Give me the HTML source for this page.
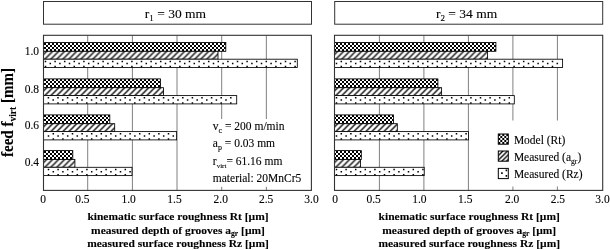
<!DOCTYPE html>
<html><head><meta charset="utf-8"><style>
html,body{margin:0;padding:0;background:#fff;}
svg{display:block;will-change:transform;}
text{font-family:"Liberation Serif", serif;fill:#000;stroke:#000;stroke-width:0.1px;}
</style></head><body>
<svg width="610" height="250" viewBox="0 0 610 250">
<defs>
<pattern id="chk" patternUnits="userSpaceOnUse" width="4" height="4" x="0" y="1">
<rect width="4" height="4" fill="#fff"/>
<rect x="2" y="0" width="2" height="2" fill="#000"/>
<rect x="0" y="2" width="2" height="2" fill="#000"/>
</pattern>
<pattern id="hat" patternUnits="userSpaceOnUse" width="6" height="6" x="0" y="0">
<rect width="6" height="6" fill="#fff"/>
<path d="M-1,1 L1,-1 M0,6 L6,0 M5,7 L7,5" stroke="#000" stroke-width="1.3"/>
</pattern>
<pattern id="chk2" patternUnits="userSpaceOnUse" width="4" height="4" x="498.3" y="134">
<rect width="4" height="4" fill="#fff"/>
<rect x="0" y="0" width="2" height="2" fill="#000"/>
<rect x="2" y="2" width="2" height="2" fill="#000"/>
</pattern>
<pattern id="hat2" patternUnits="userSpaceOnUse" width="4.6" height="4.6" x="498.3" y="151">
<rect width="4.6" height="4.6" fill="#fff"/>
<path d="M-1,1 L1,-1 M0,4.6 L4.6,0 M3.6,5.6 L5.6,3.6" stroke="#000" stroke-width="1.35"/>
</pattern>
</defs>
<rect width="610" height="250" fill="#fff"/>

<rect x="43.5" y="1.5" width="268.0" height="22.7" fill="#fff" stroke="#333" stroke-width="1"/>
<line x1="87.70" y1="35.3" x2="87.70" y2="190.4" stroke="#808080" stroke-width="1"/>
<line x1="132.40" y1="35.3" x2="132.40" y2="190.4" stroke="#808080" stroke-width="1"/>
<line x1="177.00" y1="35.3" x2="177.00" y2="190.4" stroke="#808080" stroke-width="1"/>
<line x1="221.70" y1="35.3" x2="221.70" y2="190.4" stroke="#808080" stroke-width="1"/>
<line x1="266.35" y1="35.3" x2="266.35" y2="190.4" stroke="#808080" stroke-width="1"/>
<rect x="43.5" y="42.5" width="182.3" height="8.8" fill="url(#chk)" stroke="#000" stroke-width="0.85"/>
<g transform="translate(43.5,42.5)">
<rect x="0" y="8.8" width="174.5" height="7.9" fill="url(#hat)" stroke="#000" stroke-width="0.85"/>
<rect x="0" y="16.7" width="253.8" height="8.3" fill="#fff" stroke="#000" stroke-width="0.85"/>
<path d="M1.25,18.15h1.5v1.5h-1.5zM1.25,23.35h1.5v1.5h-1.5zM6.05,20.35h1.5v1.5h-1.5zM10.85,18.15h1.5v1.5h-1.5zM10.85,23.35h1.5v1.5h-1.5zM15.65,20.35h1.5v1.5h-1.5zM20.45,18.15h1.5v1.5h-1.5zM20.45,23.35h1.5v1.5h-1.5zM25.25,20.35h1.5v1.5h-1.5zM30.05,18.15h1.5v1.5h-1.5zM30.05,23.35h1.5v1.5h-1.5zM34.85,20.35h1.5v1.5h-1.5zM39.65,18.15h1.5v1.5h-1.5zM39.65,23.35h1.5v1.5h-1.5zM44.45,20.35h1.5v1.5h-1.5zM49.25,18.15h1.5v1.5h-1.5zM49.25,23.35h1.5v1.5h-1.5zM54.05,20.35h1.5v1.5h-1.5zM58.85,18.15h1.5v1.5h-1.5zM58.85,23.35h1.5v1.5h-1.5zM63.65,20.35h1.5v1.5h-1.5zM68.45,18.15h1.5v1.5h-1.5zM68.45,23.35h1.5v1.5h-1.5zM73.25,20.35h1.5v1.5h-1.5zM78.05,18.15h1.5v1.5h-1.5zM78.05,23.35h1.5v1.5h-1.5zM82.85,20.35h1.5v1.5h-1.5zM87.65,18.15h1.5v1.5h-1.5zM87.65,23.35h1.5v1.5h-1.5zM92.45,20.35h1.5v1.5h-1.5zM97.25,18.15h1.5v1.5h-1.5zM97.25,23.35h1.5v1.5h-1.5zM102.05,20.35h1.5v1.5h-1.5zM106.85,18.15h1.5v1.5h-1.5zM106.85,23.35h1.5v1.5h-1.5zM111.65,20.35h1.5v1.5h-1.5zM116.45,18.15h1.5v1.5h-1.5zM116.45,23.35h1.5v1.5h-1.5zM121.25,20.35h1.5v1.5h-1.5zM126.05,18.15h1.5v1.5h-1.5zM126.05,23.35h1.5v1.5h-1.5zM130.85,20.35h1.5v1.5h-1.5zM135.65,18.15h1.5v1.5h-1.5zM135.65,23.35h1.5v1.5h-1.5zM140.45,20.35h1.5v1.5h-1.5zM145.25,18.15h1.5v1.5h-1.5zM145.25,23.35h1.5v1.5h-1.5zM150.05,20.35h1.5v1.5h-1.5zM154.85,18.15h1.5v1.5h-1.5zM154.85,23.35h1.5v1.5h-1.5zM159.65,20.35h1.5v1.5h-1.5zM164.45,18.15h1.5v1.5h-1.5zM164.45,23.35h1.5v1.5h-1.5zM169.25,20.35h1.5v1.5h-1.5zM174.05,18.15h1.5v1.5h-1.5zM174.05,23.35h1.5v1.5h-1.5zM178.85,20.35h1.5v1.5h-1.5zM183.65,18.15h1.5v1.5h-1.5zM183.65,23.35h1.5v1.5h-1.5zM188.45,20.35h1.5v1.5h-1.5zM193.25,18.15h1.5v1.5h-1.5zM193.25,23.35h1.5v1.5h-1.5zM198.05,20.35h1.5v1.5h-1.5zM202.85,18.15h1.5v1.5h-1.5zM202.85,23.35h1.5v1.5h-1.5zM207.65,20.35h1.5v1.5h-1.5zM212.45,18.15h1.5v1.5h-1.5zM212.45,23.35h1.5v1.5h-1.5zM217.25,20.35h1.5v1.5h-1.5zM222.05,18.15h1.5v1.5h-1.5zM222.05,23.35h1.5v1.5h-1.5zM226.85,20.35h1.5v1.5h-1.5zM231.65,18.15h1.5v1.5h-1.5zM231.65,23.35h1.5v1.5h-1.5zM236.45,20.35h1.5v1.5h-1.5zM241.25,18.15h1.5v1.5h-1.5zM241.25,23.35h1.5v1.5h-1.5zM246.05,20.35h1.5v1.5h-1.5zM250.85,18.15h1.5v1.5h-1.5zM250.85,23.35h1.5v1.5h-1.5z" fill="#000"/>
</g>
<rect x="43.5" y="78.9" width="117.0" height="8.8" fill="url(#chk)" stroke="#000" stroke-width="0.85"/>
<g transform="translate(43.5,78.9)">
<rect x="0" y="8.8" width="120.0" height="7.9" fill="url(#hat)" stroke="#000" stroke-width="0.85"/>
<rect x="0" y="16.7" width="193.2" height="8.3" fill="#fff" stroke="#000" stroke-width="0.85"/>
<path d="M4.15,18.15h1.5v1.5h-1.5zM4.15,23.35h1.5v1.5h-1.5zM8.95,20.35h1.5v1.5h-1.5zM13.75,18.15h1.5v1.5h-1.5zM13.75,23.35h1.5v1.5h-1.5zM18.55,20.35h1.5v1.5h-1.5zM23.35,18.15h1.5v1.5h-1.5zM23.35,23.35h1.5v1.5h-1.5zM28.15,20.35h1.5v1.5h-1.5zM32.95,18.15h1.5v1.5h-1.5zM32.95,23.35h1.5v1.5h-1.5zM37.75,20.35h1.5v1.5h-1.5zM42.55,18.15h1.5v1.5h-1.5zM42.55,23.35h1.5v1.5h-1.5zM47.35,20.35h1.5v1.5h-1.5zM52.15,18.15h1.5v1.5h-1.5zM52.15,23.35h1.5v1.5h-1.5zM56.95,20.35h1.5v1.5h-1.5zM61.75,18.15h1.5v1.5h-1.5zM61.75,23.35h1.5v1.5h-1.5zM66.55,20.35h1.5v1.5h-1.5zM71.35,18.15h1.5v1.5h-1.5zM71.35,23.35h1.5v1.5h-1.5zM76.15,20.35h1.5v1.5h-1.5zM80.95,18.15h1.5v1.5h-1.5zM80.95,23.35h1.5v1.5h-1.5zM85.75,20.35h1.5v1.5h-1.5zM90.55,18.15h1.5v1.5h-1.5zM90.55,23.35h1.5v1.5h-1.5zM95.35,20.35h1.5v1.5h-1.5zM100.15,18.15h1.5v1.5h-1.5zM100.15,23.35h1.5v1.5h-1.5zM104.95,20.35h1.5v1.5h-1.5zM109.75,18.15h1.5v1.5h-1.5zM109.75,23.35h1.5v1.5h-1.5zM114.55,20.35h1.5v1.5h-1.5zM119.35,18.15h1.5v1.5h-1.5zM119.35,23.35h1.5v1.5h-1.5zM124.15,20.35h1.5v1.5h-1.5zM128.95,18.15h1.5v1.5h-1.5zM128.95,23.35h1.5v1.5h-1.5zM133.75,20.35h1.5v1.5h-1.5zM138.55,18.15h1.5v1.5h-1.5zM138.55,23.35h1.5v1.5h-1.5zM143.35,20.35h1.5v1.5h-1.5zM148.15,18.15h1.5v1.5h-1.5zM148.15,23.35h1.5v1.5h-1.5zM152.95,20.35h1.5v1.5h-1.5zM157.75,18.15h1.5v1.5h-1.5zM157.75,23.35h1.5v1.5h-1.5zM162.55,20.35h1.5v1.5h-1.5zM167.35,18.15h1.5v1.5h-1.5zM167.35,23.35h1.5v1.5h-1.5zM172.15,20.35h1.5v1.5h-1.5zM176.95,18.15h1.5v1.5h-1.5zM176.95,23.35h1.5v1.5h-1.5zM181.75,20.35h1.5v1.5h-1.5zM186.55,18.15h1.5v1.5h-1.5zM186.55,23.35h1.5v1.5h-1.5z" fill="#000"/>
</g>
<rect x="43.5" y="114.9" width="66.3" height="8.8" fill="url(#chk)" stroke="#000" stroke-width="0.85"/>
<g transform="translate(43.5,114.9)">
<rect x="0" y="8.8" width="71.2" height="7.9" fill="url(#hat)" stroke="#000" stroke-width="0.85"/>
<rect x="0" y="16.7" width="133.1" height="8.3" fill="#fff" stroke="#000" stroke-width="0.85"/>
<path d="M4.25,20.35h1.5v1.5h-1.5zM9.05,18.15h1.5v1.5h-1.5zM9.05,23.35h1.5v1.5h-1.5zM13.85,20.35h1.5v1.5h-1.5zM18.65,18.15h1.5v1.5h-1.5zM18.65,23.35h1.5v1.5h-1.5zM23.45,20.35h1.5v1.5h-1.5zM28.25,18.15h1.5v1.5h-1.5zM28.25,23.35h1.5v1.5h-1.5zM33.05,20.35h1.5v1.5h-1.5zM37.85,18.15h1.5v1.5h-1.5zM37.85,23.35h1.5v1.5h-1.5zM42.65,20.35h1.5v1.5h-1.5zM47.45,18.15h1.5v1.5h-1.5zM47.45,23.35h1.5v1.5h-1.5zM52.25,20.35h1.5v1.5h-1.5zM57.05,18.15h1.5v1.5h-1.5zM57.05,23.35h1.5v1.5h-1.5zM61.85,20.35h1.5v1.5h-1.5zM66.65,18.15h1.5v1.5h-1.5zM66.65,23.35h1.5v1.5h-1.5zM71.45,20.35h1.5v1.5h-1.5zM76.25,18.15h1.5v1.5h-1.5zM76.25,23.35h1.5v1.5h-1.5zM81.05,20.35h1.5v1.5h-1.5zM85.85,18.15h1.5v1.5h-1.5zM85.85,23.35h1.5v1.5h-1.5zM90.65,20.35h1.5v1.5h-1.5zM95.45,18.15h1.5v1.5h-1.5zM95.45,23.35h1.5v1.5h-1.5zM100.25,20.35h1.5v1.5h-1.5zM105.05,18.15h1.5v1.5h-1.5zM105.05,23.35h1.5v1.5h-1.5zM109.85,20.35h1.5v1.5h-1.5zM114.65,18.15h1.5v1.5h-1.5zM114.65,23.35h1.5v1.5h-1.5zM119.45,20.35h1.5v1.5h-1.5zM124.25,18.15h1.5v1.5h-1.5zM124.25,23.35h1.5v1.5h-1.5zM129.05,20.35h1.5v1.5h-1.5z" fill="#000"/>
</g>
<rect x="43.5" y="150.6" width="29.3" height="8.8" fill="url(#chk)" stroke="#000" stroke-width="0.85"/>
<g transform="translate(43.5,150.6)">
<rect x="0" y="8.8" width="31.4" height="7.9" fill="url(#hat)" stroke="#000" stroke-width="0.85"/>
<rect x="0" y="16.7" width="88.5" height="8.3" fill="#fff" stroke="#000" stroke-width="0.85"/>
<path d="M4.25,18.15h1.5v1.5h-1.5zM4.25,23.35h1.5v1.5h-1.5zM9.05,20.35h1.5v1.5h-1.5zM13.85,18.15h1.5v1.5h-1.5zM13.85,23.35h1.5v1.5h-1.5zM18.65,20.35h1.5v1.5h-1.5zM23.45,18.15h1.5v1.5h-1.5zM23.45,23.35h1.5v1.5h-1.5zM28.25,20.35h1.5v1.5h-1.5zM33.05,18.15h1.5v1.5h-1.5zM33.05,23.35h1.5v1.5h-1.5zM37.85,20.35h1.5v1.5h-1.5zM42.65,18.15h1.5v1.5h-1.5zM42.65,23.35h1.5v1.5h-1.5zM47.45,20.35h1.5v1.5h-1.5zM52.25,18.15h1.5v1.5h-1.5zM52.25,23.35h1.5v1.5h-1.5zM57.05,20.35h1.5v1.5h-1.5zM61.85,18.15h1.5v1.5h-1.5zM61.85,23.35h1.5v1.5h-1.5zM66.65,20.35h1.5v1.5h-1.5zM71.45,18.15h1.5v1.5h-1.5zM71.45,23.35h1.5v1.5h-1.5zM76.25,20.35h1.5v1.5h-1.5zM81.05,18.15h1.5v1.5h-1.5zM81.05,23.35h1.5v1.5h-1.5zM85.85,20.35h1.5v1.5h-1.5z" fill="#000"/>
</g>
<text x="43.00" y="203" font-size="11.5" text-anchor="middle">0</text>
<text x="82.32" y="203" font-size="11.5" text-anchor="middle">0.5</text>
<text x="128.58" y="203" font-size="11.5" text-anchor="middle">1.0</text>
<text x="174.55" y="203" font-size="11.5" text-anchor="middle">1.5</text>
<text x="220.72" y="203" font-size="11.5" text-anchor="middle">2.0</text>
<text x="266.13" y="203" font-size="11.5" text-anchor="middle">2.5</text>
<text x="311.50" y="203" font-size="11.5" text-anchor="middle">3.0</text>
<text x="175.4" y="18.4" font-size="13.5" text-anchor="middle">r<tspan font-size="9" dy="3">1</tspan><tspan dy="-3"> = 30 mm</tspan></text>
<text transform="translate(178.0,220.2) scale(1.065,1)" font-size="10.8" font-weight="bold" text-anchor="middle">kinematic surface roughness Rt [µm]</text>
<text transform="translate(178.0,234.0) scale(1.065,1)" font-size="10.8" font-weight="bold" text-anchor="middle">measured depth of grooves a<tspan font-size="7.2" dy="2.3">gr</tspan><tspan dy="-2.3"> [µm]</tspan></text>
<text transform="translate(178.0,247.0) scale(1.065,1)" font-size="10.8" font-weight="bold" text-anchor="middle">measured surface roughness Rz [µm]</text>
<rect x="334.7" y="1.5" width="268.0" height="22.7" fill="#fff" stroke="#333" stroke-width="1"/>
<line x1="379.40" y1="35.3" x2="379.40" y2="190.4" stroke="#808080" stroke-width="1"/>
<line x1="423.90" y1="35.3" x2="423.90" y2="190.4" stroke="#808080" stroke-width="1"/>
<line x1="468.40" y1="35.3" x2="468.40" y2="190.4" stroke="#808080" stroke-width="1"/>
<line x1="512.90" y1="35.3" x2="512.90" y2="190.4" stroke="#808080" stroke-width="1"/>
<line x1="557.40" y1="35.3" x2="557.40" y2="190.4" stroke="#808080" stroke-width="1"/>
<rect x="334.5" y="42.5" width="161.4" height="8.8" fill="url(#chk)" stroke="#000" stroke-width="0.85"/>
<g transform="translate(334.5,42.5)">
<rect x="0" y="8.8" width="153.1" height="7.9" fill="url(#hat)" stroke="#000" stroke-width="0.85"/>
<rect x="0" y="16.7" width="228.1" height="8.3" fill="#fff" stroke="#000" stroke-width="0.85"/>
<path d="M1.25,20.35h1.5v1.5h-1.5zM6.05,18.15h1.5v1.5h-1.5zM6.05,23.35h1.5v1.5h-1.5zM10.85,20.35h1.5v1.5h-1.5zM15.65,18.15h1.5v1.5h-1.5zM15.65,23.35h1.5v1.5h-1.5zM20.45,20.35h1.5v1.5h-1.5zM25.25,18.15h1.5v1.5h-1.5zM25.25,23.35h1.5v1.5h-1.5zM30.05,20.35h1.5v1.5h-1.5zM34.85,18.15h1.5v1.5h-1.5zM34.85,23.35h1.5v1.5h-1.5zM39.65,20.35h1.5v1.5h-1.5zM44.45,18.15h1.5v1.5h-1.5zM44.45,23.35h1.5v1.5h-1.5zM49.25,20.35h1.5v1.5h-1.5zM54.05,18.15h1.5v1.5h-1.5zM54.05,23.35h1.5v1.5h-1.5zM58.85,20.35h1.5v1.5h-1.5zM63.65,18.15h1.5v1.5h-1.5zM63.65,23.35h1.5v1.5h-1.5zM68.45,20.35h1.5v1.5h-1.5zM73.25,18.15h1.5v1.5h-1.5zM73.25,23.35h1.5v1.5h-1.5zM78.05,20.35h1.5v1.5h-1.5zM82.85,18.15h1.5v1.5h-1.5zM82.85,23.35h1.5v1.5h-1.5zM87.65,20.35h1.5v1.5h-1.5zM92.45,18.15h1.5v1.5h-1.5zM92.45,23.35h1.5v1.5h-1.5zM97.25,20.35h1.5v1.5h-1.5zM102.05,18.15h1.5v1.5h-1.5zM102.05,23.35h1.5v1.5h-1.5zM106.85,20.35h1.5v1.5h-1.5zM111.65,18.15h1.5v1.5h-1.5zM111.65,23.35h1.5v1.5h-1.5zM116.45,20.35h1.5v1.5h-1.5zM121.25,18.15h1.5v1.5h-1.5zM121.25,23.35h1.5v1.5h-1.5zM126.05,20.35h1.5v1.5h-1.5zM130.85,18.15h1.5v1.5h-1.5zM130.85,23.35h1.5v1.5h-1.5zM135.65,20.35h1.5v1.5h-1.5zM140.45,18.15h1.5v1.5h-1.5zM140.45,23.35h1.5v1.5h-1.5zM145.25,20.35h1.5v1.5h-1.5zM150.05,18.15h1.5v1.5h-1.5zM150.05,23.35h1.5v1.5h-1.5zM154.85,20.35h1.5v1.5h-1.5zM159.65,18.15h1.5v1.5h-1.5zM159.65,23.35h1.5v1.5h-1.5zM164.45,20.35h1.5v1.5h-1.5zM169.25,18.15h1.5v1.5h-1.5zM169.25,23.35h1.5v1.5h-1.5zM174.05,20.35h1.5v1.5h-1.5zM178.85,18.15h1.5v1.5h-1.5zM178.85,23.35h1.5v1.5h-1.5zM183.65,20.35h1.5v1.5h-1.5zM188.45,18.15h1.5v1.5h-1.5zM188.45,23.35h1.5v1.5h-1.5zM193.25,20.35h1.5v1.5h-1.5zM198.05,18.15h1.5v1.5h-1.5zM198.05,23.35h1.5v1.5h-1.5zM202.85,20.35h1.5v1.5h-1.5zM207.65,18.15h1.5v1.5h-1.5zM207.65,23.35h1.5v1.5h-1.5zM212.45,20.35h1.5v1.5h-1.5zM217.25,18.15h1.5v1.5h-1.5zM217.25,23.35h1.5v1.5h-1.5zM222.05,20.35h1.5v1.5h-1.5z" fill="#000"/>
</g>
<rect x="334.5" y="78.9" width="103.4" height="8.8" fill="url(#chk)" stroke="#000" stroke-width="0.85"/>
<g transform="translate(334.5,78.9)">
<rect x="0" y="8.8" width="107.1" height="7.9" fill="url(#hat)" stroke="#000" stroke-width="0.85"/>
<rect x="0" y="16.7" width="179.8" height="8.3" fill="#fff" stroke="#000" stroke-width="0.85"/>
<path d="M1.25,18.15h1.5v1.5h-1.5zM1.25,23.35h1.5v1.5h-1.5zM6.05,20.35h1.5v1.5h-1.5zM10.85,18.15h1.5v1.5h-1.5zM10.85,23.35h1.5v1.5h-1.5zM15.65,20.35h1.5v1.5h-1.5zM20.45,18.15h1.5v1.5h-1.5zM20.45,23.35h1.5v1.5h-1.5zM25.25,20.35h1.5v1.5h-1.5zM30.05,18.15h1.5v1.5h-1.5zM30.05,23.35h1.5v1.5h-1.5zM34.85,20.35h1.5v1.5h-1.5zM39.65,18.15h1.5v1.5h-1.5zM39.65,23.35h1.5v1.5h-1.5zM44.45,20.35h1.5v1.5h-1.5zM49.25,18.15h1.5v1.5h-1.5zM49.25,23.35h1.5v1.5h-1.5zM54.05,20.35h1.5v1.5h-1.5zM58.85,18.15h1.5v1.5h-1.5zM58.85,23.35h1.5v1.5h-1.5zM63.65,20.35h1.5v1.5h-1.5zM68.45,18.15h1.5v1.5h-1.5zM68.45,23.35h1.5v1.5h-1.5zM73.25,20.35h1.5v1.5h-1.5zM78.05,18.15h1.5v1.5h-1.5zM78.05,23.35h1.5v1.5h-1.5zM82.85,20.35h1.5v1.5h-1.5zM87.65,18.15h1.5v1.5h-1.5zM87.65,23.35h1.5v1.5h-1.5zM92.45,20.35h1.5v1.5h-1.5zM97.25,18.15h1.5v1.5h-1.5zM97.25,23.35h1.5v1.5h-1.5zM102.05,20.35h1.5v1.5h-1.5zM106.85,18.15h1.5v1.5h-1.5zM106.85,23.35h1.5v1.5h-1.5zM111.65,20.35h1.5v1.5h-1.5zM116.45,18.15h1.5v1.5h-1.5zM116.45,23.35h1.5v1.5h-1.5zM121.25,20.35h1.5v1.5h-1.5zM126.05,18.15h1.5v1.5h-1.5zM126.05,23.35h1.5v1.5h-1.5zM130.85,20.35h1.5v1.5h-1.5zM135.65,18.15h1.5v1.5h-1.5zM135.65,23.35h1.5v1.5h-1.5zM140.45,20.35h1.5v1.5h-1.5zM145.25,18.15h1.5v1.5h-1.5zM145.25,23.35h1.5v1.5h-1.5zM150.05,20.35h1.5v1.5h-1.5zM154.85,18.15h1.5v1.5h-1.5zM154.85,23.35h1.5v1.5h-1.5zM159.65,20.35h1.5v1.5h-1.5zM164.45,18.15h1.5v1.5h-1.5zM164.45,23.35h1.5v1.5h-1.5zM169.25,20.35h1.5v1.5h-1.5zM174.05,18.15h1.5v1.5h-1.5zM174.05,23.35h1.5v1.5h-1.5z" fill="#000"/>
</g>
<rect x="334.5" y="114.9" width="59.0" height="8.8" fill="url(#chk)" stroke="#000" stroke-width="0.85"/>
<g transform="translate(334.5,114.9)">
<rect x="0" y="8.8" width="62.8" height="7.9" fill="url(#hat)" stroke="#000" stroke-width="0.85"/>
<rect x="0" y="16.7" width="134.0" height="8.3" fill="#fff" stroke="#000" stroke-width="0.85"/>
<path d="M1.25,20.35h1.5v1.5h-1.5zM6.05,18.15h1.5v1.5h-1.5zM6.05,23.35h1.5v1.5h-1.5zM10.85,20.35h1.5v1.5h-1.5zM15.65,18.15h1.5v1.5h-1.5zM15.65,23.35h1.5v1.5h-1.5zM20.45,20.35h1.5v1.5h-1.5zM25.25,18.15h1.5v1.5h-1.5zM25.25,23.35h1.5v1.5h-1.5zM30.05,20.35h1.5v1.5h-1.5zM34.85,18.15h1.5v1.5h-1.5zM34.85,23.35h1.5v1.5h-1.5zM39.65,20.35h1.5v1.5h-1.5zM44.45,18.15h1.5v1.5h-1.5zM44.45,23.35h1.5v1.5h-1.5zM49.25,20.35h1.5v1.5h-1.5zM54.05,18.15h1.5v1.5h-1.5zM54.05,23.35h1.5v1.5h-1.5zM58.85,20.35h1.5v1.5h-1.5zM63.65,18.15h1.5v1.5h-1.5zM63.65,23.35h1.5v1.5h-1.5zM68.45,20.35h1.5v1.5h-1.5zM73.25,18.15h1.5v1.5h-1.5zM73.25,23.35h1.5v1.5h-1.5zM78.05,20.35h1.5v1.5h-1.5zM82.85,18.15h1.5v1.5h-1.5zM82.85,23.35h1.5v1.5h-1.5zM87.65,20.35h1.5v1.5h-1.5zM92.45,18.15h1.5v1.5h-1.5zM92.45,23.35h1.5v1.5h-1.5zM97.25,20.35h1.5v1.5h-1.5zM102.05,18.15h1.5v1.5h-1.5zM102.05,23.35h1.5v1.5h-1.5zM106.85,20.35h1.5v1.5h-1.5zM111.65,18.15h1.5v1.5h-1.5zM111.65,23.35h1.5v1.5h-1.5zM116.45,20.35h1.5v1.5h-1.5zM121.25,18.15h1.5v1.5h-1.5zM121.25,23.35h1.5v1.5h-1.5zM126.05,20.35h1.5v1.5h-1.5zM130.85,18.15h1.5v1.5h-1.5zM130.85,23.35h1.5v1.5h-1.5z" fill="#000"/>
</g>
<rect x="334.5" y="150.6" width="26.8" height="8.8" fill="url(#chk)" stroke="#000" stroke-width="0.85"/>
<g transform="translate(334.5,150.6)">
<rect x="0" y="8.8" width="26.0" height="7.9" fill="url(#hat)" stroke="#000" stroke-width="0.85"/>
<rect x="0" y="16.7" width="89.7" height="8.3" fill="#fff" stroke="#000" stroke-width="0.85"/>
<path d="M1.25,18.15h1.5v1.5h-1.5zM1.25,23.35h1.5v1.5h-1.5zM6.05,20.35h1.5v1.5h-1.5zM10.85,18.15h1.5v1.5h-1.5zM10.85,23.35h1.5v1.5h-1.5zM15.65,20.35h1.5v1.5h-1.5zM20.45,18.15h1.5v1.5h-1.5zM20.45,23.35h1.5v1.5h-1.5zM25.25,20.35h1.5v1.5h-1.5zM30.05,18.15h1.5v1.5h-1.5zM30.05,23.35h1.5v1.5h-1.5zM34.85,20.35h1.5v1.5h-1.5zM39.65,18.15h1.5v1.5h-1.5zM39.65,23.35h1.5v1.5h-1.5zM44.45,20.35h1.5v1.5h-1.5zM49.25,18.15h1.5v1.5h-1.5zM49.25,23.35h1.5v1.5h-1.5zM54.05,20.35h1.5v1.5h-1.5zM58.85,18.15h1.5v1.5h-1.5zM58.85,23.35h1.5v1.5h-1.5zM63.65,20.35h1.5v1.5h-1.5zM68.45,18.15h1.5v1.5h-1.5zM68.45,23.35h1.5v1.5h-1.5zM73.25,20.35h1.5v1.5h-1.5zM78.05,18.15h1.5v1.5h-1.5zM78.05,23.35h1.5v1.5h-1.5zM82.85,20.35h1.5v1.5h-1.5zM87.65,18.15h1.5v1.5h-1.5zM87.65,23.35h1.5v1.5h-1.5z" fill="#000"/>
</g>
<text x="335.20" y="203" font-size="11.5" text-anchor="middle">0</text>
<text x="373.67" y="203" font-size="11.5" text-anchor="middle">0.5</text>
<text x="419.33" y="203" font-size="11.5" text-anchor="middle">1.0</text>
<text x="465.30" y="203" font-size="11.5" text-anchor="middle">1.5</text>
<text x="512.07" y="203" font-size="11.5" text-anchor="middle">2.0</text>
<text x="557.93" y="203" font-size="11.5" text-anchor="middle">2.5</text>
<text x="602.50" y="203" font-size="11.5" text-anchor="middle">3.0</text>
<text x="466.6" y="18.4" font-size="13.5" text-anchor="middle">r<tspan font-size="9" dy="3">2</tspan><tspan dy="-3"> = 34 mm</tspan></text>
<text transform="translate(469.2,220.2) scale(1.065,1)" font-size="10.8" font-weight="bold" text-anchor="middle">kinematic surface roughness Rt [µm]</text>
<text transform="translate(469.2,234.0) scale(1.065,1)" font-size="10.8" font-weight="bold" text-anchor="middle">measured depth of grooves a<tspan font-size="7.2" dy="2.3">gr</tspan><tspan dy="-2.3"> [µm]</tspan></text>
<text transform="translate(469.2,247.0) scale(1.065,1)" font-size="10.8" font-weight="bold" text-anchor="middle">measured surface roughness Rz [µm]</text>
<rect x="205" y="119" width="100" height="67.8" fill="#fff"/>
<text x="212.8" y="130" font-size="11.5">v<tspan font-size="8" dy="2.6">c</tspan><tspan dy="-2.6"> = 200 m/min</tspan></text>
<text x="212.8" y="147.3" font-size="11.5">a<tspan font-size="8" dy="2.6">p</tspan><tspan dy="-2.6"> = 0.03 mm</tspan></text>
<text x="212.8" y="164.5" font-size="11.5">r<tspan font-size="7" dy="3.2">virt</tspan><tspan dy="-3.2">= 61.16 mm</tspan></text>
<text x="212.8" y="181.7" font-size="11.5">material: 20MnCr5</text>
<rect x="490" y="120.5" width="108" height="66" fill="#fff"/>
<rect x="498.3" y="134" width="10" height="10.2" fill="url(#chk2)" stroke="#000" stroke-width="1"/>
<rect x="498.3" y="151" width="10" height="10.2" fill="url(#hat2)" stroke="#000" stroke-width="1"/>
<rect x="498.3" y="168.4" width="10" height="10.2" fill="#fff" stroke="#000" stroke-width="1"/>
<path d="M501.1,172.3h1.6v1.6h-1.6zM505.6,169.6h1.6v1.6h-1.6zM505.6,175.1h1.6v1.6h-1.6z" fill="#000"/>
<text x="513.9" y="143.7" font-size="11.5">Model (Rt)</text>
<text x="513.9" y="160.6" font-size="11.5">Measured (a<tspan font-size="7.6" dy="3.2">gr</tspan><tspan dy="-3.2">)</tspan></text>
<text x="513.9" y="177.8" font-size="11.5">Measured (Rz)</text>
<rect x="43.5" y="35.3" width="267.9" height="155.1" fill="none" stroke="#333" stroke-width="1.1"/>
<rect x="334.5" y="35.3" width="268.20000000000005" height="155.1" fill="none" stroke="#333" stroke-width="1.1"/>
<text x="39" y="55" font-size="11.5" text-anchor="end">1.0</text>
<text x="39" y="92.5" font-size="11.5" text-anchor="end">0.8</text>
<text x="39" y="128.5" font-size="11.5" text-anchor="end">0.6</text>
<text x="39" y="165.5" font-size="11.5" text-anchor="end">0.4</text>
<text transform="translate(12.5,157) rotate(-90) scale(1,1.08)" x="0" y="0" font-size="15" font-weight="bold">feed f<tspan font-size="9.5" dy="3.5">virt</tspan><tspan dy="-3.5"> [mm]</tspan></text>
</svg>
</body></html>
